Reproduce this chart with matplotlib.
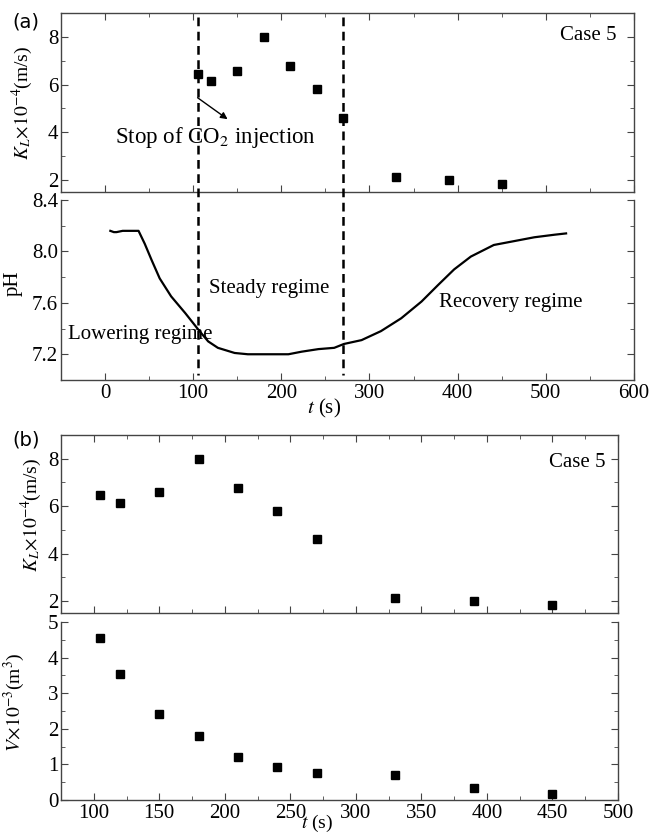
"""Two-part figure: KL / pH time series (a) and KL / V scatter (b) for Case 5."""
import matplotlib

matplotlib.use("Agg")
import matplotlib.pyplot as plt
from matplotlib.lines import Line2D
from matplotlib.ticker import MultipleLocator, FormatStrFormatter
from matplotlib.transforms import blended_transform_factory

# measured points (Case 5)
t_pts = [105, 120, 150, 180, 210, 240, 270, 330, 390, 450]
kl_pts = [6.46, 6.14, 6.59, 8.0, 6.78, 5.8, 4.62, 2.14, 2.0, 1.85]
v_pts = [4.56, 3.53, 2.42, 1.80, 1.20, 0.92, 0.76, 0.70, 0.35, 0.18]

# pH record
t_ph = [6, 10, 13, 20, 30, 38, 45, 53, 62, 75, 91, 106, 117, 128, 147, 162,
        185, 208, 223, 242, 260, 271, 291, 313, 336, 359, 378, 396, 415, 441,
        464, 487, 510, 523]
ph = [8.16, 8.15, 8.15, 8.16, 8.16, 8.16, 8.06, 7.93, 7.79, 7.65, 7.52, 7.39,
      7.30, 7.25, 7.21, 7.20, 7.20, 7.20, 7.22, 7.24, 7.25, 7.28, 7.31, 7.38,
      7.48, 7.61, 7.74, 7.86, 7.96, 8.05, 8.08, 8.11, 8.13, 8.14]

# regime boundaries (s)
t_bounds = [105, 270]

SPINE = "#444444"


def setup_style():
    plt.rcParams.update({
        "font.family": ["Liberation Serif", "DejaVu Serif"],
        "mathtext.fontset": "stix",
        "font.size": 15,
        "xtick.labelsize": 15,
        "ytick.labelsize": 15,
        "xtick.direction": "in",
        "ytick.direction": "in",
        "xtick.top": True,
        "ytick.right": True,
        "xtick.major.size": 5,
        "ytick.major.size": 5,
        "xtick.minor.size": 3,
        "ytick.minor.size": 3,
        "xtick.color": SPINE,
        "ytick.color": SPINE,
        "xtick.labelcolor": "black",
        "ytick.labelcolor": "black",
        "axes.edgecolor": SPINE,
        "axes.linewidth": 1.0,
        "xtick.major.pad": 3,
        "ytick.major.pad": 2,
    })


def kl_axis(ax):
    ax.set_ylim(1.5, 9)
    ax.yaxis.set_major_locator(MultipleLocator(2))
    ax.yaxis.set_minor_locator(MultipleLocator(1))
    ax.set_ylabel(r"$K_L\!\times\!10^{-4}$(m/s)", fontsize=14)
    ax.tick_params(axis="x", which="both", labelbottom=False)


def main():
    setup_style()
    fig = plt.figure(figsize=(6.5, 8.34), dpi=100)

    ax1 = fig.add_axes([0.0938, 0.7698, 0.8815, 0.2146])
    ax2 = fig.add_axes([0.0938, 0.5444, 0.8815, 0.2158])
    ax3 = fig.add_axes([0.0938, 0.2650, 0.8570, 0.2134])
    ax4 = fig.add_axes([0.0938, 0.0408, 0.8570, 0.2134])

    # --- (a) KL with regime boundaries
    ax1.plot(t_pts, kl_pts, "s", color="black", ms=5.5)
    ax1.set_xlim(-50, 600)
    ax1.xaxis.set_major_locator(MultipleLocator(100))
    ax1.xaxis.set_minor_locator(MultipleLocator(50))
    kl_axis(ax1)
    ax1.yaxis.set_label_coords(-0.045, 0.5)
    ax1.text(0.97, 0.877, "Case 5", transform=ax1.transAxes, ha="right",
             va="center", fontsize=15)
    ax1.text(11, 3.8, "Stop of CO$_2$ injection", fontsize=16.5,
             va="center", ha="left")
    # arrow from the dashed line towards the text
    ax1.annotate("", xy=(139, 4.55), xytext=(105, 5.45),
                 arrowprops=dict(arrowstyle="-|>", color="black", lw=1.0,
                                 mutation_scale=10, shrinkA=0, shrinkB=0))

    # --- (a) pH
    ax2.plot(t_ph, ph, color="black", lw=1.6)
    ax2.set_xlim(-50, 600)
    ax2.set_ylim(7.0, 8.4)
    ax2.xaxis.set_major_locator(MultipleLocator(100))
    ax2.xaxis.set_minor_locator(MultipleLocator(50))
    ax2.yaxis.set_major_locator(MultipleLocator(0.4))
    ax2.yaxis.set_minor_locator(MultipleLocator(0.2))
    ax2.yaxis.set_major_formatter(FormatStrFormatter("%.1f"))
    ax2.spines["top"].set_visible(False)
    ax2.tick_params(axis="x", which="both", top=False)
    ax2.set_xticks(range(0, 601, 100))
    ax2.set_ylabel("pH", fontsize=15)
    ax2.yaxis.set_label_coords(-0.066, 0.54)
    ax2.set_xlabel(r"$t$ (s)", fontsize=15)
    ax2.xaxis.set_label_coords(0.46, -0.095)
    ax2.text(-42, 7.35, "Lowering regime", ha="left", va="center", fontsize=15)
    ax2.text(118, 7.71, "Steady regime", ha="left", va="center", fontsize=15)
    ax2.text(379, 7.60, "Recovery regime", ha="left", va="center", fontsize=15)

    # dashed regime boundaries across both (a) panels
    tr = blended_transform_factory(ax2.transData, fig.transFigure)
    for tb in t_bounds:
        fig.add_artist(Line2D([tb, tb], [0.9796, 0.5504], transform=tr,
                              color="black", lw=1.8, ls=(0, (3.5, 2.2))))

    # --- (b) KL
    ax3.plot(t_pts, kl_pts, "s", color="black", ms=5.5)
    ax3.set_xlim(75, 500)
    ax3.xaxis.set_major_locator(MultipleLocator(50))
    ax3.xaxis.set_minor_locator(MultipleLocator(25))
    kl_axis(ax3)
    ax3.yaxis.set_label_coords(-0.03, 0.55)
    ax3.text(0.977, 0.848, "Case 5", transform=ax3.transAxes, ha="right",
             va="center", fontsize=15)

    # --- (b) V
    ax4.plot(t_pts, v_pts, "s", color="black", ms=5.5)
    ax4.set_xlim(75, 500)
    ax4.set_ylim(0, 5)
    ax4.set_xticks(range(100, 501, 50))
    ax4.xaxis.set_minor_locator(MultipleLocator(25))
    ax4.yaxis.set_major_locator(MultipleLocator(1))
    ax4.yaxis.set_minor_locator(MultipleLocator(0.5))
    ax4.spines["top"].set_visible(False)
    ax4.tick_params(axis="x", which="both", top=False)
    ax4.set_ylabel(r"$V\!\times\!10^{-3}$(m$^3$)", fontsize=14)
    ax4.yaxis.set_label_coords(-0.061, 0.55)
    ax4.set_xlabel(r"$t$ (s)", fontsize=14)
    ax4.xaxis.set_label_coords(0.46, -0.075)

    fig.text(12 / 650, 1 - 22 / 834, "(a)", family="DejaVu Sans",
             fontsize=14, va="center", ha="left")
    fig.text(12 / 650, 1 - 440 / 834, "(b)", family="DejaVu Sans",
             fontsize=14, va="center", ha="left")

    fig.savefig("out.png", dpi=100)
    plt.close(fig)


if __name__ == "__main__":
    main()
